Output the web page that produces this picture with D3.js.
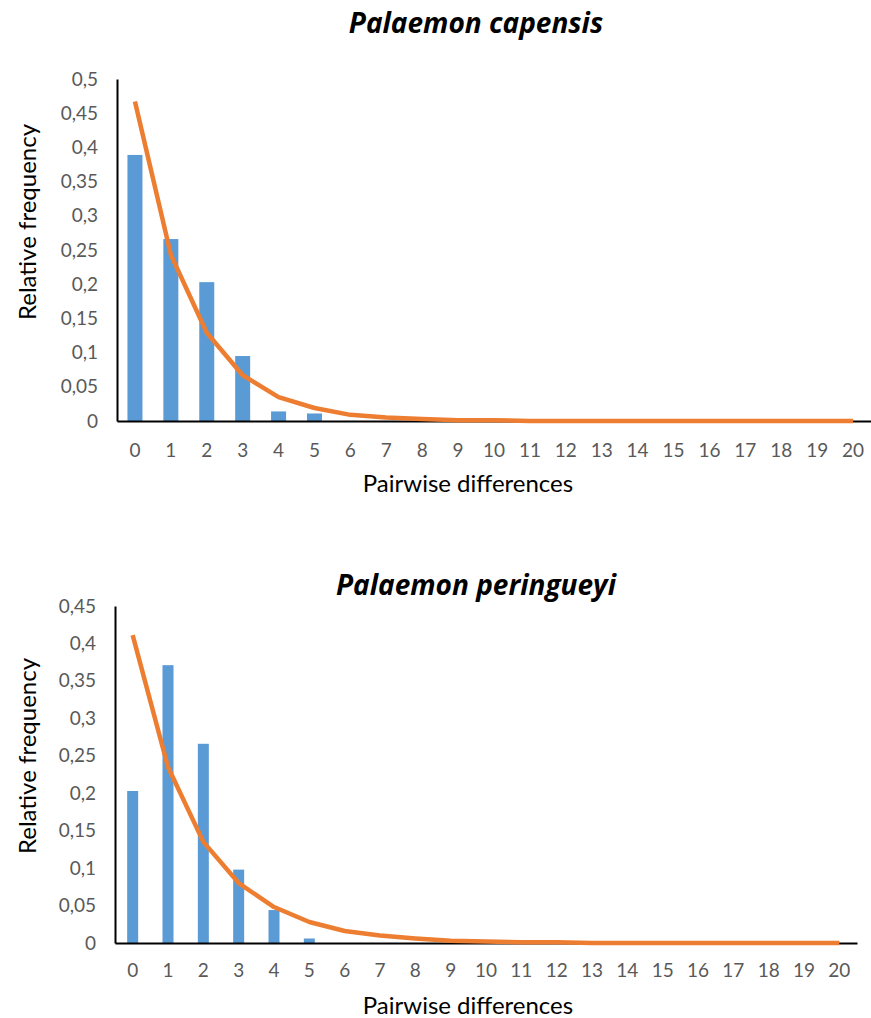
<!DOCTYPE html>
<html>
<head>
<meta charset="utf-8">
<script src="https://cdn.jsdelivr.net/npm/d3@7"></script>
<style>
  body { margin: 0; background: #fff; }
  .tick text { font-family: Lato, "Open Sans", sans-serif; font-size: 19px; fill: #595959; }
  .title { font-family: "Open Sans", sans-serif; font-weight: bold; font-style: italic; font-size: 28px; fill: #000; }
  .axis-title { font-family: Lato, "Open Sans", sans-serif; font-size: 24px; fill: #000; }
</style>
</head>
<body>
<svg id="chart" width="871" height="1018"></svg>
<script>
const diffs = d3.range(0, 21);

// Palaemon capensis
const capensisObserved = [0.389, 0.266, 0.203, 0.095, 0.014, 0.011, 0, 0, 0, 0, 0, 0, 0, 0, 0, 0, 0, 0, 0, 0, 0];
const capensisExpected = [0.467, 0.243, 0.129, 0.067, 0.035, 0.019, 0.009, 0.005, 0.003, 0.001, 0.001, 0, 0, 0, 0, 0, 0, 0, 0, 0, 0];
const capensisTicks = [0, 0.05, 0.1, 0.15, 0.2, 0.25, 0.3, 0.35, 0.4, 0.45, 0.5];

// Palaemon peringueyi
const peringueyiObserved = [0.203, 0.371, 0.266, 0.098, 0.044, 0.006, 0, 0, 0, 0, 0, 0, 0, 0, 0, 0, 0, 0, 0, 0, 0];
const peringueyiExpected = [0.411, 0.235, 0.135, 0.080, 0.048, 0.028, 0.016, 0.010, 0.006, 0.003, 0.002, 0.001, 0.001, 0, 0, 0, 0, 0, 0, 0, 0];
const peringueyiTicks = [0, 0.05, 0.1, 0.15, 0.2, 0.25, 0.3, 0.35, 0.4, 0.45];

const svg = d3.select("#chart");
const fmt = d => String(d).replace(".", ",");

const drawPanel = (cfg) => {
    const g = svg.append("g");

    const x = d3.scaleBand()
        .domain(diffs)
        .range([cfg.left, cfg.right])
        .paddingInner(0)
        .paddingOuter(0);

    const y = d3.scaleLinear()
        .domain([0, cfg.ymax])
        .range([cfg.bottom, cfg.top]);

    // bars
    g.selectAll("rect")
        .data(cfg.observed)
        .enter().append("rect")
            .attr("x", (d, i) => x(i) + (x.bandwidth() - cfg.barWidth) / 2)
            .attr("width", cfg.barWidth)
            .attr("y", d => y(d))
            .attr("height", d => y(0) - y(d))
            .attr("fill", "#5B9BD5");

    // y axis
    const yAxis = g.append("g")
        .attr("transform", `translate(${cfg.left},0)`)
        .call(d3.axisLeft(y).tickValues(cfg.ticks).tickFormat(fmt).tickSize(0).tickPadding(19));
    yAxis.select(".domain").attr("stroke", "#000").attr("stroke-width", 2);

    // x axis
    const xAxis = g.append("g")
        .attr("transform", `translate(0,${cfg.bottom})`)
        .call(d3.axisBottom(x).tickSize(0).tickPadding(cfg.xPad));
    xAxis.select(".domain").attr("stroke", "#000").attr("stroke-width", 2);

    // expected line
    const line = d3.line()
        .x((d, i) => x(i) + x.bandwidth() / 2)
        .y(d => y(d));
    g.append("path")
        .datum(cfg.expected)
        .attr("d", line)
        .attr("fill", "none")
        .attr("stroke", "#ED7D31")
        .attr("stroke-width", 4.5)
        .attr("stroke-linejoin", "round");

    // titles
    g.append("text")
        .attr("class", "title")
        .attr("x", 476)
        .attr("y", cfg.titleY)
        .attr("text-anchor", "middle")
        .text(cfg.title);

    g.append("text")
        .attr("class", "axis-title")
        .attr("x", 468)
        .attr("y", cfg.bottom + 71)
        .attr("text-anchor", "middle")
        .text("Pairwise differences");

    g.append("text")
        .attr("class", "axis-title")
        .attr("transform", `translate(36,${cfg.titleMid}) rotate(-90)`)
        .attr("text-anchor", "middle")
        .text("Relative frequency");
};

drawPanel({
    title: "Palaemon capensis",
    observed: capensisObserved,
    expected: capensisExpected,
    ticks: capensisTicks,
    ymax: 0.5,
    left: 117, right: 871, top: 79, bottom: 421,
    barWidth: 15, titleY: 33, xPad: 23, titleMid: 222
});

drawPanel({
    title: "Palaemon peringueyi",
    observed: peringueyiObserved,
    expected: peringueyiExpected,
    ticks: peringueyiTicks,
    ymax: 0.45,
    left: 115, right: 857, top: 606, bottom: 943,
    barWidth: 11, titleY: 595, xPad: 21, titleMid: 756
});
</script>
</body>
</html>
